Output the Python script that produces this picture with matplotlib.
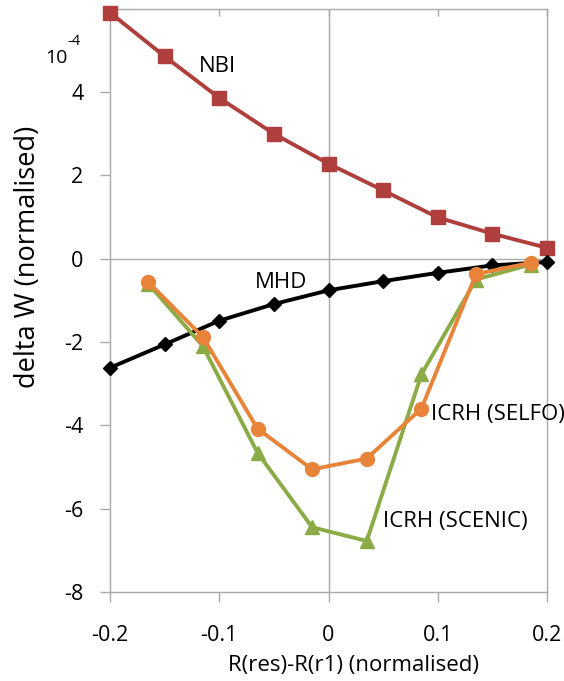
import matplotlib
matplotlib.use('Agg')
import matplotlib.pyplot as plt
import numpy as np

plt.rcParams['font.family'] = ['Open Sans', 'DejaVu Sans']
plt.rcParams['axes.unicode_minus'] = False

# dados
x_full = [-0.2, -0.15, -0.1, -0.05, 0.0, 0.05, 0.1, 0.15, 0.2]
nbi = [5.91, 4.86, 3.86, 3.0, 2.28, 1.64, 0.99, 0.6, 0.26]
mhd = [-2.62, -2.06, -1.49, -1.09, -0.76, -0.54, -0.34, -0.16, -0.08]

x_icrh = [-0.165, -0.115, -0.065, -0.015, 0.035, 0.085, 0.135, 0.185]
selfo = [-0.56, -1.88, -4.08, -5.06, -4.8, -3.6, -0.37, -0.1]
scenic = [-0.6, -2.1, -4.66, -6.45, -6.78, -2.78, -0.5, -0.14]

xticks = [-0.2, -0.1, 0, 0.1, 0.2]
xticklabels = ['-0.2', '-0.1', '0', '0.1', '0.2']
yticks = [-8, -6, -4, -2, 0, 2, 4]

# cores
c_nbi = '#ae3f3c'
c_mhd = '#000000'
c_selfo = '#e8843a'
c_scenic = '#8aab45'
c_grid = '#a8a8a8'

fig = plt.figure(figsize=(5.64, 6.81), dpi=100)
ax = fig.add_axes([0.195, 0.131, 0.775, 0.856])

ax.axhline(0, color=c_grid, lw=1.0, zorder=1)
ax.axvline(0, color=c_grid, lw=1.0, zorder=1)

lw = 2.8
ax.plot(x_full, nbi, color=c_nbi, lw=lw, marker='s', ms=10, clip_on=False, zorder=3)
ax.plot(x_full, mhd, color=c_mhd, lw=lw, marker='D', ms=7, clip_on=False, zorder=3)
ax.plot(x_icrh, scenic, color=c_scenic, lw=lw, marker='^', ms=10.5, clip_on=False, zorder=4)
ax.plot(x_icrh, selfo, color=c_selfo, lw=lw, marker='o', ms=10, clip_on=False, zorder=5)

ax.set_xlim(-0.2, 0.2)
ax.set_ylim(-8, 6)
ax.set_xticks(xticks)
ax.set_xticklabels(xticklabels)
ax.set_yticks(yticks)

for s in ax.spines.values():
    s.set_color(c_grid)
    s.set_linewidth(1.0)

ax.tick_params(axis='x', direction='out', length=7, width=1.0, color=c_grid,
               labelsize=15.5, pad=17)
ax.tick_params(axis='y', direction='out', length=7, width=1.0, color=c_grid,
               labelsize=15.5, pad=12)

# marcas no topo, para dentro
top = ax.secondary_xaxis('top')
top.set_xticks(xticks)
top.tick_params(direction='in', length=5, width=1.0, color=c_grid, labeltop=False)
top.spines['top'].set_visible(False)

fig.text(354 / 564, 1 - 665 / 681, 'R(res)-R(r1) (normalised)', fontsize=16,
         ha='center', va='center')
fig.text(28 / 564, 1 - 257 / 681, 'delta W (normalised)', fontsize=19.5,
         rotation=90, ha='center', va='center')

# rótulos das curvas
fs = 16
ax.text(-0.102, 4.61, 'NBI', fontsize=fs, ha='center', va='center')
ax.text(-0.043, -0.56, 'MHD', fontsize=fs, ha='center', va='center')
ax.text(0.094, -3.74, 'ICRH (SELFO)', fontsize=fs, ha='left', va='center')
ax.text(0.050, -6.30, 'ICRH (SCENIC)', fontsize=fs, ha='left', va='center')

# fator de escala
fig.text(45 / 564, 1 - 63 / 681, '10', fontsize=14, ha='left', va='baseline')
fig.text(67 / 564, 1 - 45 / 681, '-4', fontsize=10.5, ha='left', va='baseline')

fig.savefig('out.png', dpi=100, facecolor='white')
